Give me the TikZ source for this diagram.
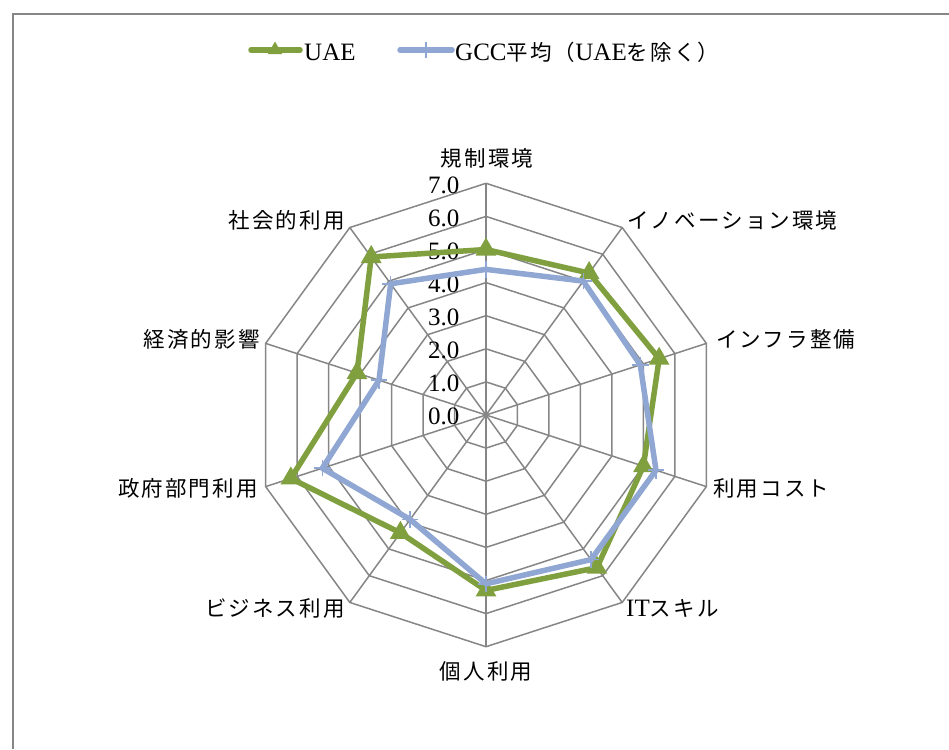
\documentclass[tikz,border=0pt]{standalone}
\usepackage{fontspec}
\setmainfont{Liberation Serif}
\newfontfamily\jp[LetterSpace=10]{Noto Sans CJK JP}
\usetikzlibrary{shapes.geometric}
\definecolor{uaegreen}{RGB}{128,160,64}
\definecolor{gccblue}{RGB}{143,167,210}
\definecolor{gridgray}{RGB}{134,134,134}
\newcommand\lat[1]{{\fontsize{25}{29}\selectfont\rmfamily #1}}
\begin{document}
\begin{tikzpicture}[x=1pt,y=1pt,
  lbl/.style={font=\fontsize{21.5}{26}\selectfont\jp, inner sep=0pt},
  num/.style={font=\fontsize{25}{29}\selectfont\rmfamily, inner sep=0pt, anchor=base east},
  gridline/.style={draw=gridgray, line width=1.5pt},
  uaeline/.style={draw=uaegreen, line width=5.5pt, line join=round},
  gccline/.style={draw=gccblue, line width=5.5pt, line join=round},
  tri/.style={regular polygon, regular polygon sides=3, fill=uaegreen, minimum size=24pt, inner sep=0pt},
  ltri/.style={regular polygon, regular polygon sides=3, fill=uaegreen, minimum size=17pt, inner sep=0pt},
  plusmark/.style={draw=gccblue, line width=1.5pt},
  ]
\useasboundingbox (0,-749) rectangle (949,0);
% frame
\coordinate (fbl) at (13,-749);
\coordinate (ftl) at (13,-14);
\coordinate (ftr) at (949,-14);
\draw[gridgray, line width=2pt] (fbl) -- (ftl) -- (ftr);

% radar chart
\begin{scope}[shift={(486,-415)}, x=33.1pt, y=33.1pt]
  \foreach \k in {1,...,7}
    \draw[gridline] (90:\k) \foreach \i in {1,...,9}{ -- ({90-36*\i}:\k)} -- cycle;
  \coordinate (c) at (0,0);
  \foreach \i in {0,...,9} {
    \coordinate (s\i) at ({90-36*\i}:7);
    \draw[gridline] (c) -- (s\i);
  }
  \foreach \k in {0,...,7}
    \node[num] (t\k) at (-0.8,{\k-0.3}) {\k.0};
  % data
  \foreach \v [count=\n from 0] in {5.0,5.3,5.5,5.0,5.7,5.3,4.4,6.2,4.1,5.9}
    \coordinate (u\n) at ({90-36*\n}:\v);
  \foreach \v [count=\n from 0] in {4.4,5.0,4.9,5.4,5.4,5.1,3.9,5.2,3.4,4.9}
    \coordinate (g\n) at ({90-36*\n}:\v);
  \draw[uaeline] (u0) -- (u1) -- (u2) -- (u3) -- (u4) -- (u5) -- (u6) -- (u7) -- (u8) -- (u9) -- cycle;
  \foreach \n in {0,...,9}
    \node[tri] (mu\n) at (u\n) {};
  \draw[gccline] (g0) -- (g1) -- (g2) -- (g3) -- (g4) -- (g5) -- (g6) -- (g7) -- (g8) -- (g9) -- cycle;
  \foreach \n in {0,...,9}
    \draw[plusmark] (g\n) +(-0.25,0) -- +(0.25,0) (g\n) +(0,-0.25) -- +(0,0.25);
\end{scope}

% axis labels
\node[lbl, anchor=center] (a0) at (487,-158.5) {規制環境};
\node[lbl, anchor=west] (a1) at (627,-220.5) {イノベーション環境};
\node[lbl, anchor=west] (a2) at (716,-339) {インフラ整備};
\node[lbl, anchor=west] (a3) at (713,-488) {利用コスト};
\node[lbl, anchor=west] (a4) at (626,-608.5) {\lat{IT}スキル};
\node[lbl, anchor=center] (a5) at (486,-671) {個人利用};
\node[lbl, anchor=east] (a6) at (345,-608) {ビジネス利用};
\node[lbl, anchor=east] (a7) at (258,-488) {政府部門利用};
\node[lbl, anchor=east] (a8) at (260,-339) {経済的影響};
\node[lbl, anchor=east] (a9) at (345,-220) {社会的利用};

% legend
\coordinate (l1a) at (251,-50);
\coordinate (l1b) at (300,-50);
\coordinate (l1m) at (275,-50);
\draw[uaeline, line cap=round] (l1a) -- (l1b);
\node[ltri] (l1t) at (l1m) {};
\node[lbl, anchor=base west] (l1x) at (304,-61) {\lat{UAE}};
\coordinate (l2a) at (400,-50);
\coordinate (l2b) at (452,-50);
\coordinate (l2m) at (426,-50);
\draw[gccline, line cap=round] (l2a) -- (l2b);
\draw[plusmark] (l2m) +(-8,0) -- +(8,0) (l2m) +(0,-8) -- +(0,8);
\node[lbl, anchor=base west] (l2x) at (455,-61) {\lat{GCC}平均（\lat{UAE}を除く）};
\end{tikzpicture}
\end{document}
